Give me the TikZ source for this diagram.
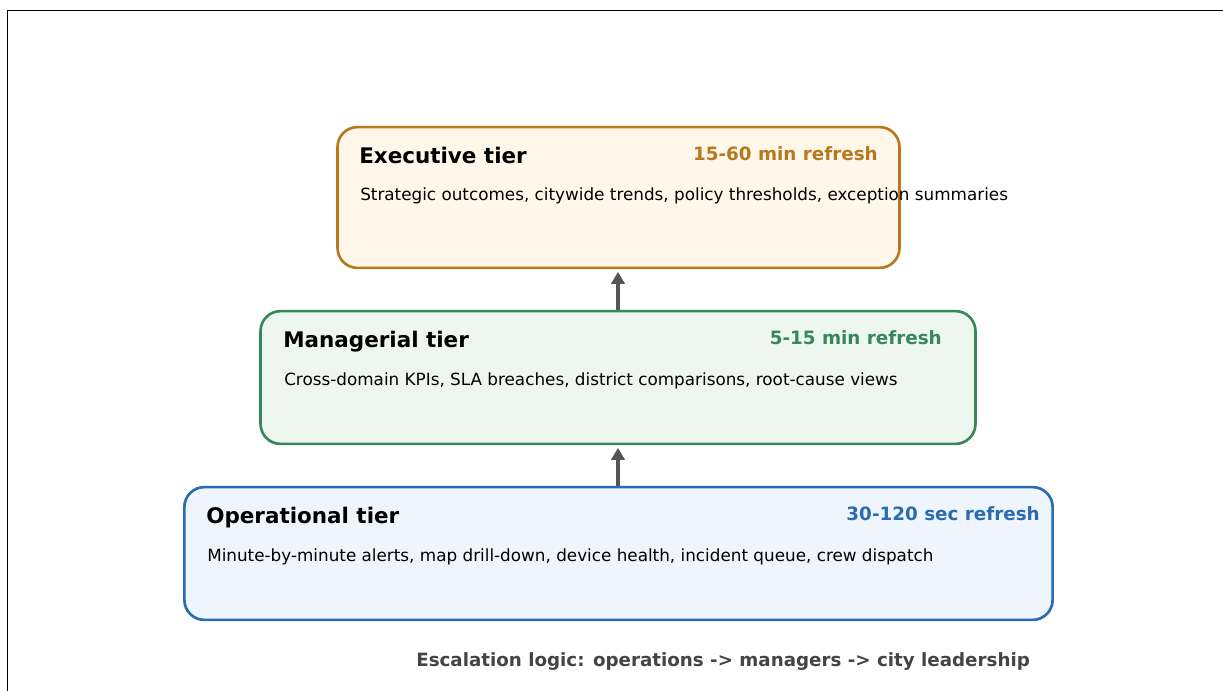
\documentclass[tikz,border=0pt]{standalone}
\usepackage{fontspec}
\setmainfont{DejaVu Sans}
\usetikzlibrary{arrows.meta}
\definecolor{execline}{HTML}{B7791F}
\definecolor{execfill}{HTML}{FFF7EA}
\definecolor{mgrline}{HTML}{38875A}
\definecolor{mgrfill}{HTML}{EDF6EF}
\definecolor{opline}{HTML}{2B6CB0}
\definecolor{opfill}{HTML}{EEF5FC}
\definecolor{flowgray}{HTML}{555555}
\definecolor{notegray}{HTML}{444444}

\begin{document}
\begin{tikzpicture}[x=0.75pt,y=-0.75pt,
	tier/.style={draw,rounded corners=15pt,line width=2pt,inner sep=0pt,minimum height=99.6pt},
	title/.style={anchor=base west,inner sep=0pt,font=\fontsize{16.1}{19}\selectfont\bfseries},
	rate/.style={anchor=base east,inner sep=0pt,font=\fontsize{13.75}{16}\selectfont\bfseries},
	body/.style={anchor=base west,inner sep=0pt,font=\fontsize{12.6}{15}\selectfont},
	flow/.style={draw=flowgray,line width=3pt,shorten >=2pt,-{Triangle[length=9pt,width=10pt]}}]

\useasboundingbox (0,0) rectangle (1223,691);
\draw[line width=1.2pt] (7.5,691) -- (7.5,10.5) -- (1223,10.5);

\node[tier,draw=execline,fill=execfill,minimum width=421.5pt,minimum height=105.6pt] (exec) at (618.5,197.5) {};
\node[tier,draw=mgrline,fill=mgrfill,minimum width=536.2pt] (mgr) at (618,377.5) {};
\node[tier,draw=opline,fill=opfill,minimum width=651.2pt] (op) at (618.5,553.5) {};

\node[title] (exect) at (359,163.5) {Executive tier};
\node[rate,text=execline] (execr) at (878,161) {15-60 min refresh};
\node[body] (execb) at (360,201) {Strategic outcomes, citywide trends, policy thresholds, exception summaries};

\node[title] (mgrt) at (283,347.5) {Managerial tier};
\node[rate,text=mgrline] (mgrr) at (942,344.5) {5-15 min refresh};
\node[body] (mgrb) at (284,385) {Cross-domain KPIs, SLA breaches, district comparisons, root-cause views};

\node[title] (opt) at (206,523.5) {Operational tier};
\node[rate,text=opline] (opr) at (1040,520.5) {30-120 sec refresh};
\node[body] (opb) at (207,561) {Minute-by-minute alerts, map drill-down, device health, incident queue, crew dispatch};

\node[anchor=base west,inner sep=0pt,text=notegray,font=\fontsize{13.7}{16}\selectfont\bfseries] (note) at (416,666)
	{Escalation logic: operations -> managers -> city leadership};

\draw[flow] (op.north -| mgr.south) -- (mgr.south);
\draw[flow] (mgr.north) -- (exec.south -| mgr.north);

\end{tikzpicture}
\end{document}
